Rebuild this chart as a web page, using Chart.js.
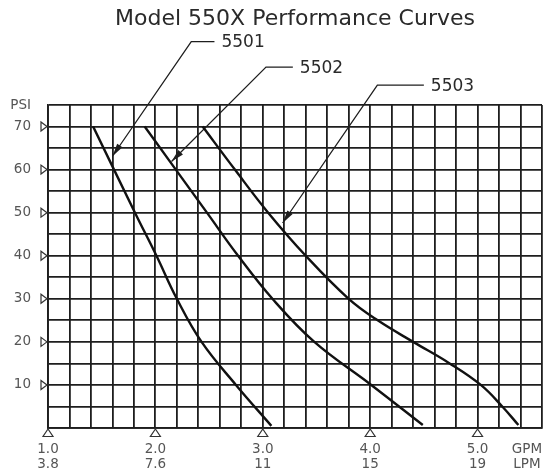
<!DOCTYPE html>
<html>
<head>
<meta charset="utf-8">
<title>Model 550X Performance Curves</title>
<script src="https://cdn.jsdelivr.net/npm/chart.js@4.4.0/dist/chart.umd.min.js"></script>
<style>
  html, body { margin: 0; padding: 0; background: #fff; }
</style>
</head>
<body>
<canvas id="perfCurves" width="544" height="470"></canvas>
<script>
//------------------------- Data -------------------------//
// flow (GPM) at each pressure (PSI), one pair of arrays per model
const psi5501 = [70, 50, 40, 30, 20, 10, 0.5];
const gpm5501 = [1.42, 1.81, 2.01, 2.20, 2.43, 2.75, 3.08];

const psi5502 = [70, 50, 40, 30, 20, 10, 0.7];
const gpm5502 = [1.90, 2.48, 2.77, 3.09, 3.48, 4.01, 4.49];

const psi5503 = [70, 60, 50, 40, 30, 25, 20, 15, 10, 5, 0.7];
const gpm5503 = [2.44, 2.74, 3.05, 3.40, 3.80, 4.07, 4.40, 4.74, 5.03, 5.23, 5.38];

// axis ticks
const gpmTicks = [1, 2, 3, 4, 5];
const lpmTicks = ['3.8', '7.6', '11', '15', '19'];
const psiTicks = [10, 20, 30, 40, 50, 60, 70];
const unitGpm = 5.46;              // where the GPM / LPM caption sits

// callouts: model name, arrow tip on the curve, elbow of the leader, end of the leader (GPM, PSI)
const calloutNames = ['5501', '5502', '5503'];
const calloutTip   = [[1.60, 63.1], [2.15, 61.9], [3.185, 47.6]];
const calloutElbow = [[2.334, 89.7], [3.03, 83.8], [4.067, 79.6]];
const calloutEnd   = [2.55, 3.28, 4.50];
//----------------------------------------------------------------------------//

const ink = '#1e1e1e';
const grey = '#555';

function toPoints(xs, ys){
	return xs.map((x, i) => ({x: x, y: ys[i]}));
}

function curve(label, xs, ys){
	return {
		label: label,
		data: toPoints(xs, ys),
		showLine: true,
		borderColor: '#111',
		borderWidth: 2.4,
		pointRadius: 0,
		tension: 0.4,
	};
}

function leader(i){
	return {
		label: 'leader ' + calloutNames[i],
		data: [
			{x: calloutTip[i][0], y: calloutTip[i][1]},
			{x: calloutElbow[i][0], y: calloutElbow[i][1]},
			{x: calloutEnd[i], y: calloutElbow[i][1]},
		],
		showLine: true,
		borderColor: ink,
		borderWidth: 1.3,
		pointRadius: 0,
		tension: 0,
		clip: false,
	};
}

// triangles on the axes, arrow heads and the model names
const decorations = {
	id: 'decorations',
	afterDatasetsDraw(chart){
		const ctx = chart.ctx;
		const x = chart.scales.x;
		const y = chart.scales.y;
		const area = chart.chartArea;
		ctx.save();
		ctx.strokeStyle = '#333';
		ctx.fillStyle = '#fff';
		ctx.lineWidth = 1.2;

		// PSI markers, pointing right
		psiTicks.forEach(v => {
			const py = y.getPixelForValue(v);
			ctx.beginPath();
			ctx.moveTo(area.left - 1, py);
			ctx.lineTo(area.left - 7, py - 4.5);
			ctx.lineTo(area.left - 7, py + 4.5);
			ctx.closePath();
			ctx.fill();
			ctx.stroke();
		});
		// GPM markers, pointing up
		gpmTicks.forEach(v => {
			const px = x.getPixelForValue(v);
			ctx.beginPath();
			ctx.moveTo(px, area.bottom + 1);
			ctx.lineTo(px - 5, area.bottom + 8.5);
			ctx.lineTo(px + 5, area.bottom + 8.5);
			ctx.closePath();
			ctx.fill();
			ctx.stroke();
		});

		// arrow heads at the curve end of each leader
		ctx.fillStyle = ink;
		calloutNames.forEach((name, i) => {
			const tx = x.getPixelForValue(calloutTip[i][0]);
			const ty = y.getPixelForValue(calloutTip[i][1]);
			const ex = x.getPixelForValue(calloutElbow[i][0]);
			const ey = y.getPixelForValue(calloutElbow[i][1]);
			const a = Math.atan2(ty - ey, tx - ex);
			const len = 13, half = 3.2;
			const bx = tx - len * Math.cos(a), by = ty - len * Math.sin(a);
			ctx.beginPath();
			ctx.moveTo(tx, ty);
			ctx.lineTo(bx + half * Math.sin(a), by - half * Math.cos(a));
			ctx.lineTo(bx - half * Math.sin(a), by + half * Math.cos(a));
			ctx.closePath();
			ctx.fill();

			// model name after the horizontal part of the leader
			ctx.font = '17px "DejaVu Sans"';
			ctx.fillStyle = '#2a2a2a';
			ctx.textAlign = 'left';
			ctx.textBaseline = 'middle';
			ctx.fillText(name, x.getPixelForValue(calloutEnd[i]) + 7, ey + 1);
			ctx.fillStyle = ink;
		});
		ctx.restore();
	}
};

const config = {
	type: 'scatter',
	data: {
		datasets: [
			curve('5501', gpm5501, psi5501),
			curve('5502', gpm5502, psi5502),
			curve('5503', gpm5503, psi5503),
			leader(0),
			leader(1),
			leader(2),
		]
	},
	options: {
		responsive: false,
		animation: false,
		events: [],
		layout: {
			padding: {left: 0, right: 2, top: 0, bottom: 0}
		},
		plugins: {
			legend: {display: false},
			tooltip: {enabled: false},
			title: {
				display: true,
				text: 'Model 550X Performance Curves',
				fullSize: false,
				color: '#2a2a2a',
				font: {family: '"DejaVu Sans"', size: 22, weight: 'normal', lineHeight: 1.2},
				padding: {top: 6, bottom: 72.6},
			}
		},
		scales: {
			x: {
				type: 'linear',
				position: 'bottom',
				min: 1,
				max: 5.6,
				ticks: {display: false, stepSize: 0.2},
				grid: {color: ink, lineWidth: 1.8, drawTicks: false},
				border: {color: ink, width: 1.8},
			},
			x2: {
				type: 'linear',
				position: 'bottom',
				min: 1,
				max: 5.6,
				grid: {display: false, drawTicks: false},
				border: {display: false},
				afterBuildTicks: scale => {
					scale.ticks = gpmTicks.concat([unitGpm]).map(v => ({value: v}));
				},
				afterFit: scale => {
					scale.height = 42;
					scale.paddingLeft = 0;
					scale.paddingRight = 0;
				},
				ticks: {
					autoSkip: false,
					maxRotation: 0,
					padding: 14.5,
					color: grey,
					font: {family: '"DejaVu Sans"', size: 13.5, lineHeight: 1.1},
					callback: (v, i) => i < gpmTicks.length ? [v.toFixed(1), lpmTicks[i]] : ['GPM', 'LPM'],
				},
			},
			y: {
				type: 'linear',
				min: 0,
				max: 75,
				afterFit: scale => { scale.width = 48; },
				ticks: {
					stepSize: 5,
					padding: 17,
					color: grey,
					font: {family: '"DejaVu Sans"', size: 13.5},
					callback: v => v === 75 ? 'PSI' : (psiTicks.includes(v) ? String(v) : ''),
				},
				grid: {color: ink, lineWidth: 1.8, drawTicks: false},
				border: {color: ink, width: 1.8},
			}
		}
	},
	plugins: [decorations]
};

const perfChart = new Chart(document.getElementById('perfCurves'), config);
</script>
</body>
</html>
